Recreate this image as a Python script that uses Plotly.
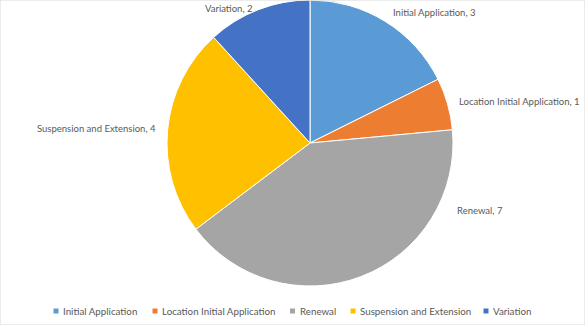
import math
import plotly.graph_objects as go

labels = ["Initial Application", "Location Initial Application", "Renewal",
          "Suspension and Extension", "Variation"]
values = [3, 1, 7, 4, 2]
colors = ["#5B9BD5", "#ED7D31", "#A5A5A5", "#FFC000", "#4472C4"]

W, H = 585, 325
cx, cy, R = 310, 143, 143
FONT = "Lato"
TXT = "#595959"

def px(x):
    return x / W

def py(y):
    return 1 - y / H

fig = go.Figure(go.Pie(
    labels=labels, values=values, sort=False, direction="clockwise", rotation=0,
    marker=dict(colors=colors, line=dict(color="white", width=1)),
    textinfo="none", showlegend=False,
    domain=dict(x=[px(cx - R), px(cx + R)], y=[py(cy + R), py(cy - R)]),
    hoverinfo="label+value",
))

# data labels (best-fit style: outside, along slice mid-angle)
label_angle_override = {"Renewal": (115.0, 160)}
total = sum(values)
annotations = []
cum = 0
for lab, v in zip(labels, values):
    mid = (cum + v / 2) / total * 360
    cum += v
    rr = R + 10
    if lab in label_angle_override:
        mid, rr = label_angle_override[lab]
    a = math.radians(mid)
    x = cx + rr * math.sin(a)
    y = cy - rr * math.cos(a)
    y = min(max(y, 9), H - 40)
    annotations.append(dict(
        x=px(x), y=py(y), xref="paper", yref="paper",
        text=f"{lab}, {v}", showarrow=False,
        xanchor="left" if math.sin(a) >= 0 else "right", yanchor="middle",
        font=dict(family=FONT, size=9.5, color=TXT),
    ))

# legend (Excel-style small square swatches)
legend_x = [56, 155, 292.5, 353, 486]
legend_y = 311
shapes = [dict(type="rect", xref="paper", yref="paper", x0=0, y0=0, x1=1, y1=1,
               line=dict(color="#D9D9D9", width=1))]
for lab, col, lx in zip(labels, colors, legend_x):
    shapes.append(dict(type="rect", xref="paper", yref="paper",
                       x0=px(lx - 2.5), x1=px(lx + 2.5), y0=py(legend_y + 2.5), y1=py(legend_y - 2.5),
                       fillcolor=col, line=dict(width=0)))
    annotations.append(dict(
        x=px(lx + 5), y=py(legend_y), xref="paper", yref="paper",
        text=lab, showarrow=False, xanchor="left", yanchor="middle",
        font=dict(family=FONT, size=9.75, color=TXT),
    ))

fig.update_layout(
    width=W, height=H, margin=dict(l=0, r=0, t=0, b=0),
    paper_bgcolor="white", plot_bgcolor="white",
    font=dict(family=FONT, size=9.5, color=TXT),
    annotations=annotations, shapes=shapes,
)

fig.write_html("out.html")
